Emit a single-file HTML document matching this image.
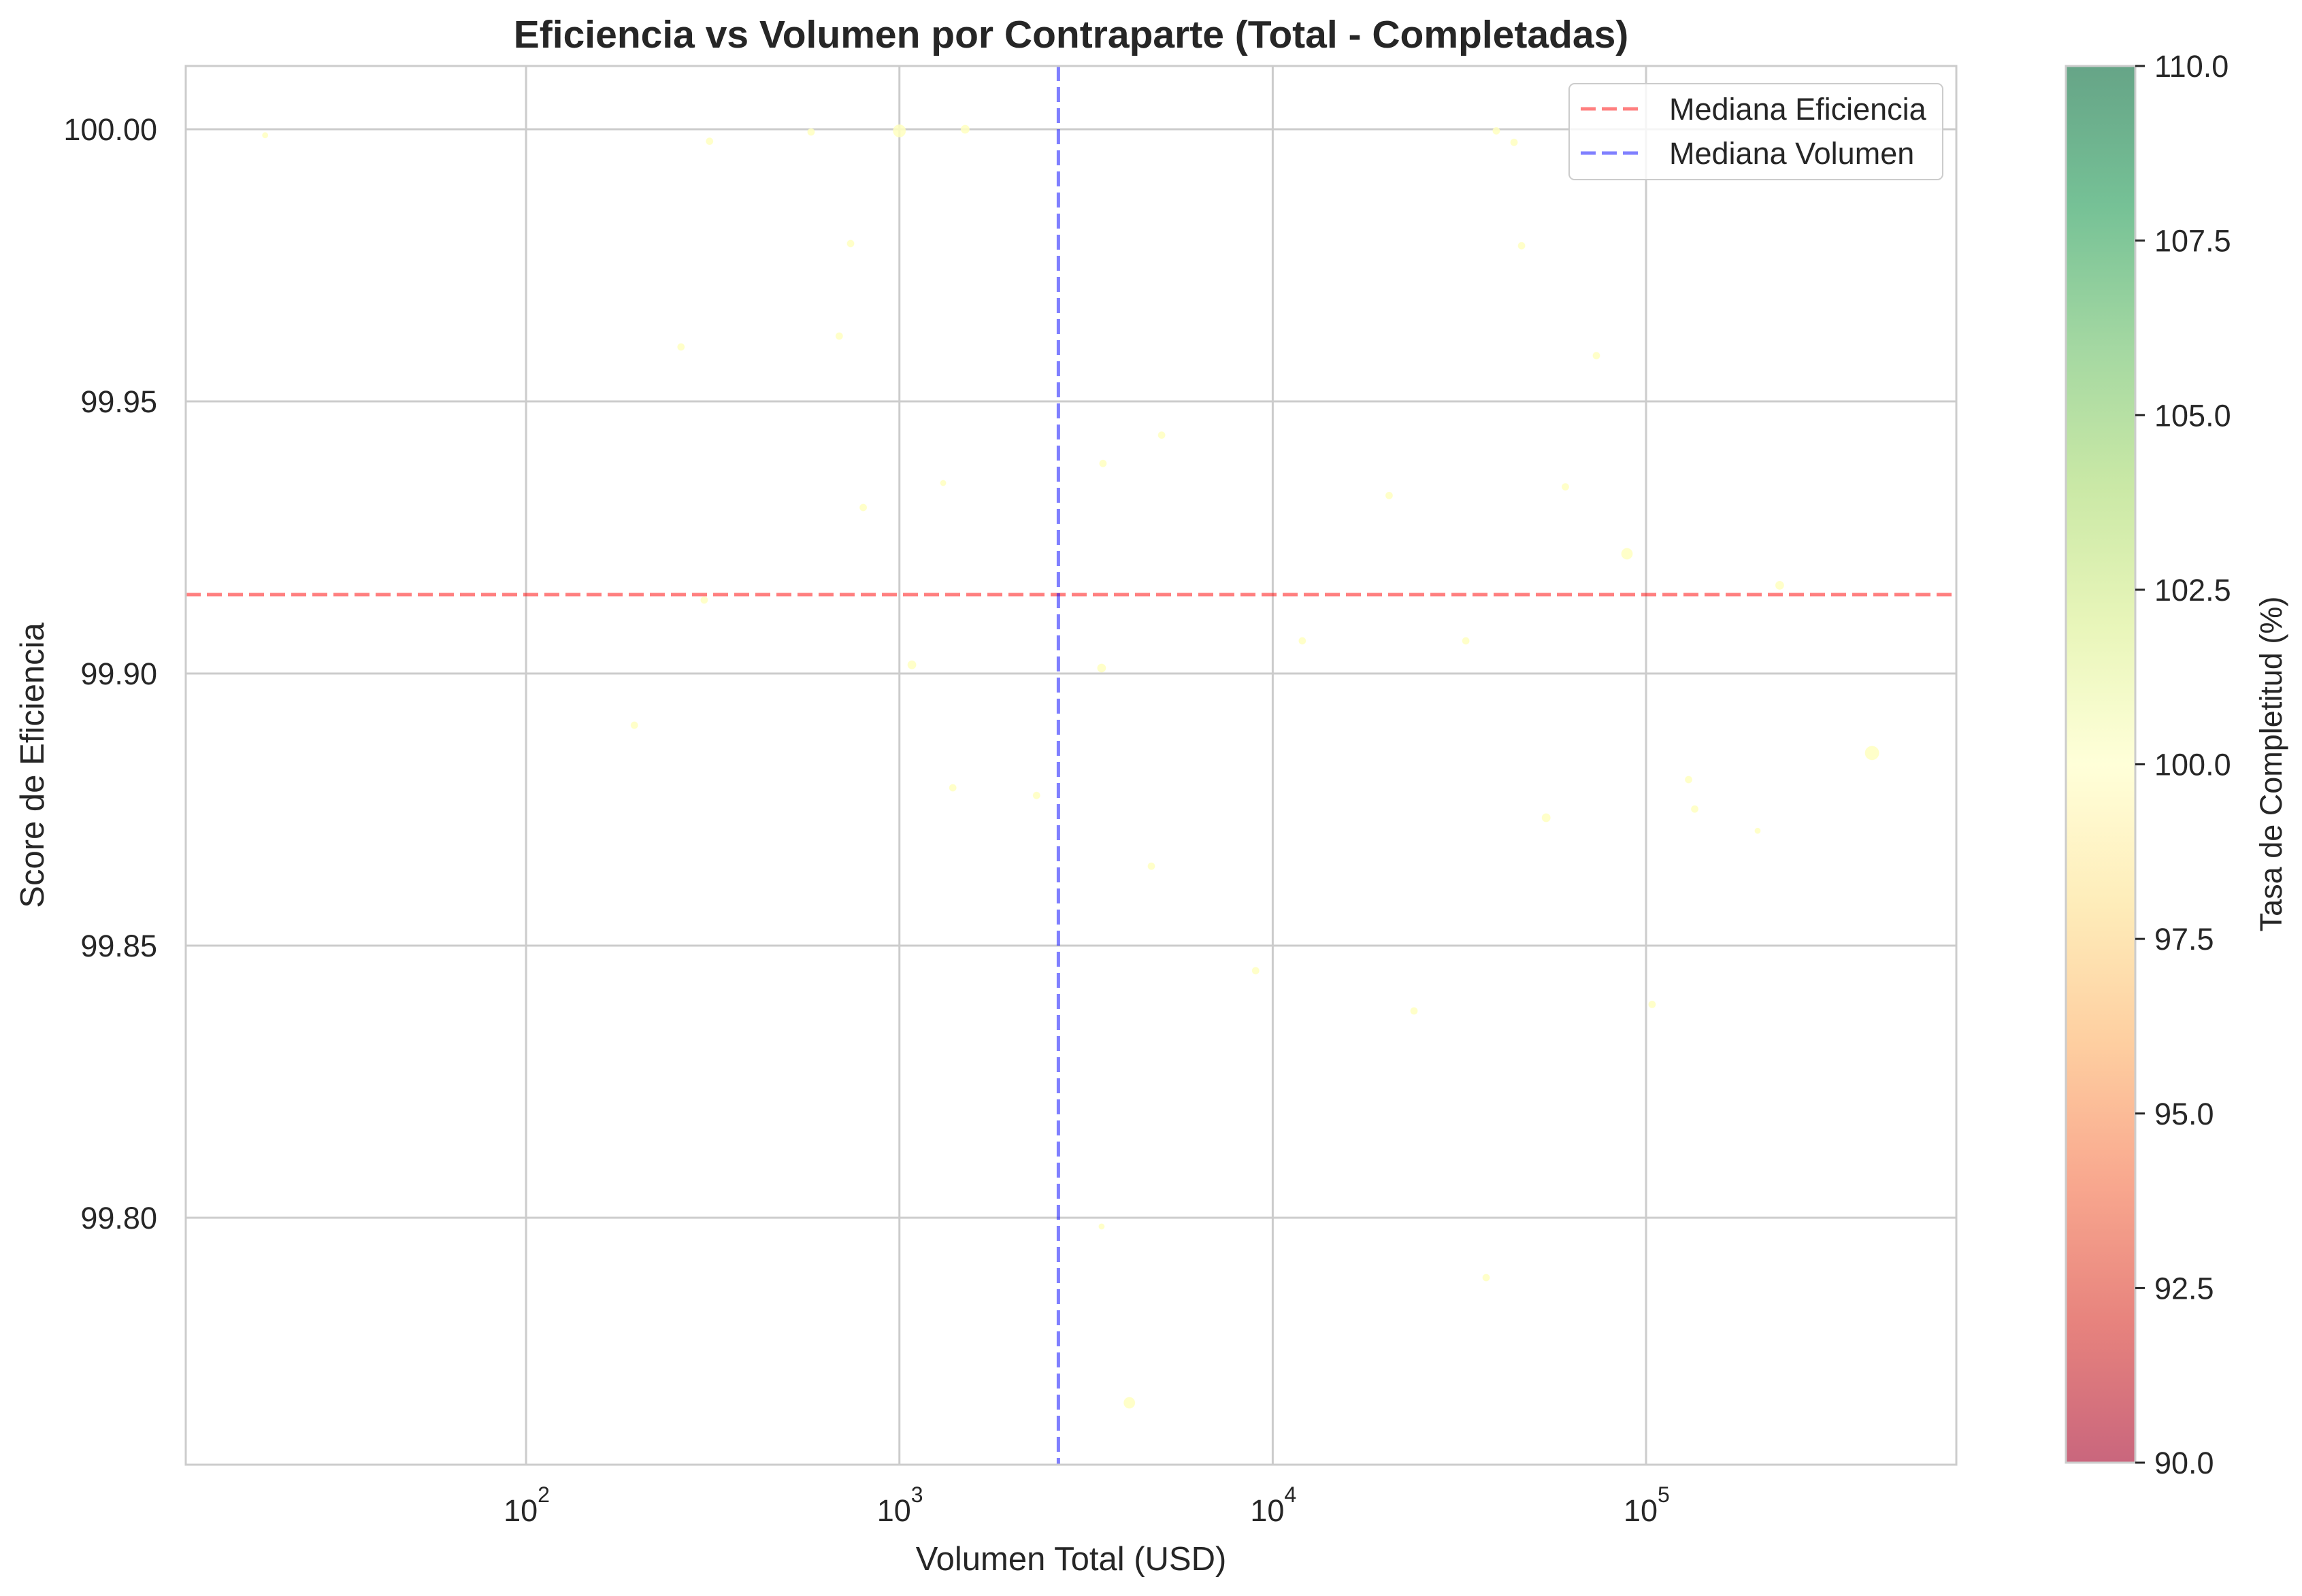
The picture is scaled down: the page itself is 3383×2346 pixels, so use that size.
<!DOCTYPE html>
<html><head><meta charset="utf-8"><style>
html,body{margin:0;padding:0;background:#fff;}
svg{display:block;font-family:"Liberation Sans",Arial,sans-serif;}
</style></head><body>
<svg id="chart" width="3383" height="2346" viewBox="0 0 3383 2346" xmlns="http://www.w3.org/2000/svg">
<defs>
<linearGradient id="cbgrad" x1="0" y1="1" x2="0" y2="0">
<stop offset="0" stop-color="#a50026"/><stop offset="0.1" stop-color="#d73027"/><stop offset="0.2" stop-color="#f46d43"/><stop offset="0.3" stop-color="#fdae61"/><stop offset="0.4" stop-color="#fee08b"/><stop offset="0.5" stop-color="#ffffbf"/><stop offset="0.6" stop-color="#d9ef8b"/><stop offset="0.7" stop-color="#a6d96a"/><stop offset="0.8" stop-color="#66bd63"/><stop offset="0.9" stop-color="#1a9850"/><stop offset="1" stop-color="#006837"/>
</linearGradient>
</defs>
<rect width="3383" height="2346" fill="#fff"/>
<g id="grid"></g>
<g id="medians"></g>
<g id="points"></g>
<rect x="273" y="97" width="2602" height="2056" fill="none" stroke="#cccccc" stroke-width="3"/>
<g id="ticks"></g>
<text x="1574" y="70" text-anchor="middle" font-size="57" font-weight="bold" fill="#262626">Eficiencia vs Volumen por Contraparte (Total - Completadas)</text>
<text x="1574" y="2308" text-anchor="middle" font-size="49" fill="#262626">Volumen Total (USD)</text>
<text transform="translate(64,1125) rotate(-90)" text-anchor="middle" font-size="49" fill="#262626">Score de Eficiencia</text>
<g>
<rect x="2306" y="123" width="549" height="141" rx="8" fill="#fff" fill-opacity="0.8" stroke="#cccccc" stroke-width="2"/>
<line x1="2323" y1="160" x2="2410" y2="160" stroke="#ff0000" stroke-opacity="0.5" stroke-width="5" stroke-dasharray="22,9"/>
<text x="2453" y="176" font-size="45" fill="#262626">Mediana Eficiencia</text>
<line x1="2323" y1="225" x2="2410" y2="225" stroke="#0000ff" stroke-opacity="0.5" stroke-width="5" stroke-dasharray="22,9"/>
<text x="2453" y="241" font-size="45" fill="#262626">Mediana Volumen</text>
</g>
<g>
<rect x="3036" y="97" width="102" height="2053" fill="url(#cbgrad)" opacity="0.6"/>
<rect x="3036" y="97" width="102" height="2053" fill="none" stroke="#cccccc" stroke-width="3"/>
<g id="cbticks"></g>
<text transform="translate(3353,1123) rotate(-90)" text-anchor="middle" font-size="45" fill="#262626">Tasa de Completitud (%)</text>
</g>
</svg>
<script>
const volumes=[20,310,580,1000,1500,740,690,260,1310,800,300,1080,195,1390,2330,3510,5040,3480,4730,9000,3480,4130,12000,20500,23900,32900,37300,39700,44300,46400,73600,60800,54000,88900,103800,130000,135000,199000,228000,403000];
const scores=[99.9989,99.9978,99.9995,99.9997,100.0,99.979,99.962,99.960,99.935,99.9305,99.9135,99.9016,99.8905,99.879,99.8776,99.9386,99.9438,99.901,99.8646,99.8454,99.7984,99.766,99.906,99.9327,99.838,99.906,99.789,99.9997,99.9976,99.9786,99.9584,99.9343,99.8735,99.922,99.8392,99.8805,99.8751,99.8711,99.9162,99.8854];
const sizes=[4,5,5,9,6,5,5,5,4,5,5,6,5,5,5,5,5,6,5,5,4,8,5,5,5,5,5,5,5,5,5,5,6,8,5,5,5,4,6,10];
const medianScore=99.9145;
const medianVolume=2666;
const yTicks=[99.80,99.85,99.90,99.95,100.00];
const xTickExps=[2,3,4,5];
const cbTicks=[90,92.5,95,97.5,100,102.5,105,107.5,110];

const L=273,R=2875,T=97,B=2153;
const xMinLog=1.0884,xMaxLog=5.8311,yMin=99.75463,yMax=100.011625;
const xs=v=>L+(Math.log10(v)-xMinLog)/(xMaxLog-xMinLog)*(R-L);
const ys=v=>B-(v-yMin)/(yMax-yMin)*(B-T);
const cbY=v=>2150-(v-90)/20*(2150-97);
const NS="http://www.w3.org/2000/svg";
function mk(tag,attrs,parent,text){const e=document.createElementNS(NS,tag);for(const k in attrs)e.setAttribute(k,attrs[k]);if(text!==undefined)e.textContent=text;parent.appendChild(e);return e;}
const grid=document.getElementById('grid'),ticks=document.getElementById('ticks');
yTicks.forEach(t=>{
  const y=ys(t);
  const g=mk('line',{x1:L,x2:R,y1:y,y2:y,stroke:'#cccccc','stroke-width':3},grid);
  
  
  const lb=mk('text',{x:L-42,y:y+16,'text-anchor':'end','font-size':45,fill:'#262626'},ticks,t.toFixed(2));
  
  
});
xTickExps.forEach(e=>{
  const x=xs(Math.pow(10,e));
  const g=mk('line',{x1:x,x2:x,y1:T,y2:B,stroke:'#cccccc','stroke-width':3},grid);
  
  
  const lb=mk('text',{x:x-8,y:2236,'text-anchor':'middle','font-size':45,fill:'#262626'},ticks,'10');
  
  
  const sp=mk('text',{x:x+17,y:2208,'font-size':32,fill:'#262626'},ticks,String(e));
  
  
});
const med=document.getElementById('medians');
const hl=mk('line',{x1:L,x2:R,y1:ys(medianScore),y2:ys(medianScore),stroke:'#ff0000','stroke-opacity':0.5,'stroke-width':5,'stroke-dasharray':'22,9'},med);


const vl=mk('line',{x1:xs(medianVolume),x2:xs(medianVolume),y1:T,y2:B,stroke:'#0000ff','stroke-opacity':0.5,'stroke-width':5,'stroke-dasharray':'22,9'},med);


const pts=document.getElementById('points');
volumes.forEach((v,i)=>{
  const c=mk('circle',{cx:xs(v),cy:ys(scores[i]),r:sizes[i],fill:'#ffffbf','fill-opacity':0.85,stroke:'#ffffbf','stroke-opacity':0.6},pts);
  
  
});
const cbt=document.getElementById('cbticks');
cbTicks.forEach(t=>{
  const y=cbY(t);
  const m=mk('line',{x1:3138,x2:3152,y1:y,y2:y,stroke:'#262626','stroke-width':3},cbt);
  
  
  const lb=mk('text',{x:3166,y:y+16,'font-size':45,fill:'#262626'},cbt,t.toFixed(1));
  
  
});
</script>
</body></html>
